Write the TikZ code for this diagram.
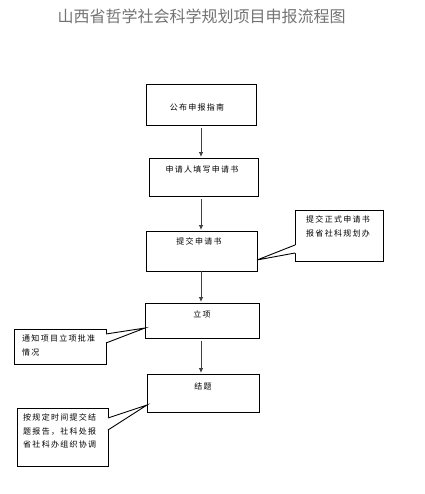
\documentclass[tikz,border=0pt]{standalone}
\usepackage{fontspec}
\newfontfamily\cjk{Noto Sans CJK SC}
\newfontfamily\cjks[LetterSpace=16]{Noto Sans CJK SC}
\usetikzlibrary{arrows.meta}
\begin{document}
\begin{tikzpicture}[x=1pt,y=-1pt,
  stepbox/.style={draw=black,line width=0.9pt,inner sep=0pt},
  note/.style={draw=black,line width=0.9pt,inner sep=0pt,fill=white},
  txt/.style={font=\cjks\fontsize{8}{14}\selectfont,inner sep=0pt},
  ntxt/.style={font=\cjks\fontsize{8}{13.5}\selectfont,inner sep=0pt,align=left,anchor=north west},
  flow/.style={draw=black!75,line width=0.9pt,-{Latex[length=5pt,width=4.5pt]}}]
\useasboundingbox (0,0) rectangle (424,494);
\node[font=\cjk\fontsize{16}{18}\selectfont,text=black!55,inner sep=0pt] (title) at (201.5,16) {山西省哲学社会科学规划项目申报流程图};
% main boxes
\node[stepbox,minimum width=110pt,minimum height=41pt] (b1) at (201,104.5) {};
\node[txt] (t1) at (197,107) {公布申报指南};
\node[stepbox,minimum width=109pt,minimum height=38pt] (b2) at (203.5,177) {};
\node[txt] (t2) at (202,169.5) {申请人填写申请书};
\node[stepbox,minimum width=111pt,minimum height=40pt] (b3) at (202,251) {};
\node[txt] (t3) at (199,241.5) {提交申请书};
\node[stepbox,minimum width=114pt,minimum height=35pt] (b4) at (202,320.5) {};
\node[txt] (t4) at (202,314) {立项};
\node[stepbox,minimum width=112pt,minimum height=38pt] (b5) at (203,393) {};
\node[txt] (t5) at (203,386) {结题};
% arrows
\coordinate (ax) at (201,0);
\draw[flow] ([yshift=-3pt]ax |- b1.south) -- ([yshift=0.5pt]ax |- b2.north);
\draw[flow] ([yshift=-3pt]ax |- b2.south) -- ([yshift=0.5pt]ax |- b3.north);
\draw[flow] ([yshift=0pt]ax |- b3.south) -- ([yshift=0.5pt]ax |- b4.north);
\draw[flow] ([yshift=-3pt]ax |- b4.south) -- ([yshift=0.5pt]ax |- b5.north);
% callout 1
\node[note,minimum width=88pt,minimum height=51pt] (n1) at (339,235.5) {};
\coordinate (p1) at (257,260);
\fill[white] (296,245) -- (p1) -- (296,253) -- cycle;
\draw[line width=0.9pt] (295,245) -- (p1) -- (295,253);
\node[ntxt] (nt1) at (306,216) {提交正式申请书\\报省社科规划办};
% callout 2
\node[note,minimum width=92pt,minimum height=35pt] (n2) at (60,346.5) {};
\coordinate (p2) at (145,328);
\fill[white] (105,334) -- (p2) -- (105,343) -- cycle;
\draw[line width=0.9pt] (106,334) -- (p2) -- (106,343);
\node[ntxt] (nt2) at (22,335) {通知项目立项批准\\情况};
% callout 3
\node[note,minimum width=91pt,minimum height=58pt] (n3) at (62.5,437) {};
\coordinate (p3) at (147,405);
\fill[white] (107,418) -- (p3) -- (107,430) -- cycle;
\draw[line width=0.9pt] (108,418) -- (p3) -- (108,430);
\node[ntxt] (nt3) at (23,414) {按规定时间提交结\\题报告，社科处报\\省社科办组织协调};
\end{tikzpicture}
\end{document}
